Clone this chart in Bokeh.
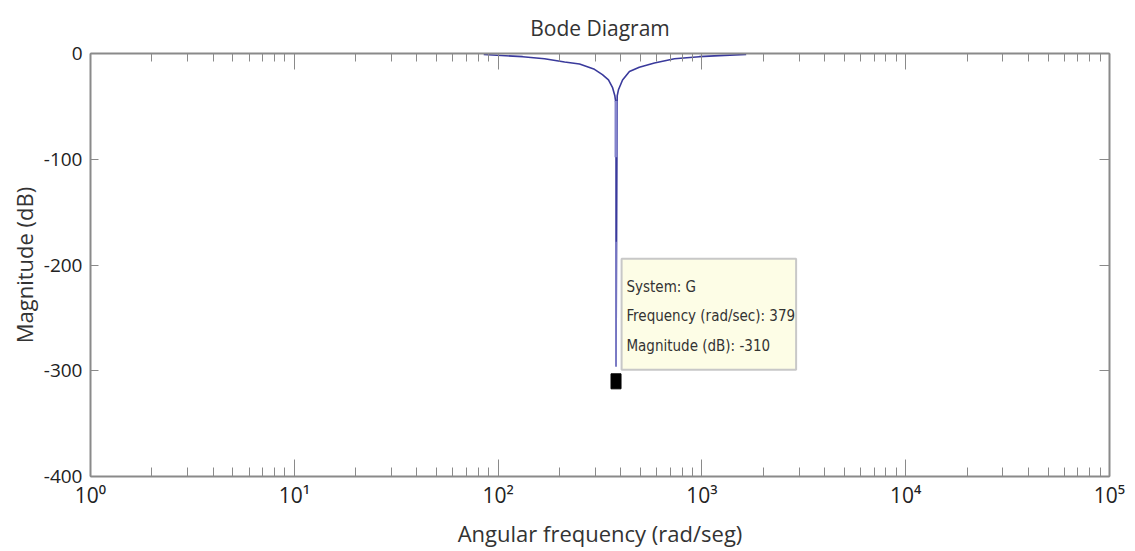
from bokeh.plotting import figure
from bokeh.models import Range1d, LinearAxis, LogAxis, LogTicker, SingleIntervalTicker, CustomJSTickFormatter, Label
from bokeh.embed import file_html
from bokeh.resources import INLINE

# ---- data ----
freq = [85, 132, 169, 212, 251, 297, 325, 348, 364, 374, 379, 379, 384, 390, 408, 441, 493, 585, 733, 971, 1217, 1649]
mag_db = [-1, -3, -5, -8, -10, -15, -20, -25, -32, -40, -48, -296, -40, -34, -25, -17, -13, -9, -5, -3, -2, -1]
# lighter-rendered pieces of the vertical notch line
light_w = [379, 379]
light_top = [-45, -178]
light_bot = [-98, -296]
light_width = [3, 1.5]
# data tip
tip_freq = 379
tip_mag = -310
tip_lines = ["System: G", "Frequency (rad/sec): 379", "Magnitude (dB): -310"]

TICK_COL = "#222222"
AX_COL = "#8a8a8a"

p = figure(width=1135, height=551, x_axis_type="log",
           x_range=Range1d(1, 1e5), y_range=Range1d(-400, 0),
           output_backend="svg", toolbar_location=None,
           min_border_left=90, min_border_right=26, min_border_top=53, min_border_bottom=75,
           background_fill_color="white", border_fill_color="white",
           outline_line_color=None)

p.title.text = "Bode Diagram"
p.title.align = "center"
p.title.text_font = "Open Sans"
p.title.text_font_size = "21px"
p.title.text_font_style = "normal"
p.title.text_color = "#333333"
p.title.standoff = 23

p.xgrid.visible = False
p.ygrid.visible = False

# bottom log axis: labels as 10 with a superscript exponent
xa = p.xaxis[0]
xa.ticker = LogTicker(desired_num_ticks=6, num_minor_ticks=10)
xa.formatter = CustomJSTickFormatter(code="""
const sup = {'0':'\u2070','1':'\u00b9','2':'\u00b2','3':'\u00b3','4':'\u2074','5':'\u2075','6':'\u2076','7':'\u2077','8':'\u2078','9':'\u2079','-':'\u207b'};
const e = Math.round(Math.log10(tick)).toString();
return '10' + e.split('').map(c => sup[c]).join('');
""")
xa.axis_label = "Angular frequency (rad/seg)"
xa.axis_label_text_font = "Open Sans"
xa.axis_label_text_font_size = "22px"
xa.axis_label_text_font_style = "normal"
xa.axis_label_text_color = "#333333"
xa.axis_label_standoff = 6
xa.major_label_text_font = "Open Sans"
xa.major_label_text_font_size = "21px"
xa.major_label_text_color = TICK_COL
xa.major_label_standoff = 4
xa.axis_line_color = AX_COL
xa.axis_line_width = 2
xa.major_tick_in = 17
xa.major_tick_out = 0
xa.minor_tick_in = 9
xa.minor_tick_out = 0
xa.major_tick_line_color = AX_COL
xa.minor_tick_line_color = AX_COL

# left linear axis
ya = p.yaxis[0]
ya.ticker = SingleIntervalTicker(interval=100, num_minor_ticks=0)
ya.formatter = CustomJSTickFormatter(code="return tick.toString()")
ya.axis_label = "Magnitude (dB)"
ya.axis_label_text_font = "Open Sans"
ya.axis_label_text_font_size = "22px"
ya.axis_label_text_font_style = "normal"
ya.axis_label_text_color = "#333333"
ya.axis_label_standoff = 2
ya.major_label_text_font = "Open Sans"
ya.major_label_text_font_size = "19px"
ya.major_label_text_color = TICK_COL
ya.major_label_standoff = 8
ya.axis_line_color = AX_COL
ya.axis_line_width = 2
ya.major_tick_in = 8
ya.major_tick_out = 0
ya.minor_tick_line_color = None
ya.major_tick_line_color = AX_COL

blank = CustomJSTickFormatter(code="return ''")

top = LogAxis(ticker=LogTicker(desired_num_ticks=6, num_minor_ticks=10), formatter=blank,
              axis_line_color=AX_COL, axis_line_width=2,
              major_tick_in=16, major_tick_out=0, minor_tick_in=8, minor_tick_out=0,
              major_tick_line_color=AX_COL, minor_tick_line_color=AX_COL,
              major_label_standoff=0, major_label_text_font_size="1px")
p.add_layout(top, "above")

right = LinearAxis(ticker=SingleIntervalTicker(interval=100, num_minor_ticks=0), formatter=blank,
                   axis_line_color=AX_COL, axis_line_width=2,
                   major_tick_in=10, major_tick_out=0, minor_tick_line_color=None,
                   major_tick_line_color=AX_COL, major_label_standoff=0,
                   major_label_text_font_size="1px")
p.add_layout(right, "right")

# magnitude curve
p.line(freq, mag_db, line_color="#3a3a9c", line_width=1.6)
p.segment(x0=light_w, y0=light_top, x1=light_w, y1=light_bot,
          line_color="#8585cc", line_width=light_width)

# data tip box
box_left = tip_freq * 1.065
box_right = tip_freq * 7.65
box_top = tip_mag + 116
box_bottom = tip_mag + 11
p.quad(left=[box_left], right=[box_right], top=[box_top], bottom=[box_bottom],
       fill_color="#fdfde6", line_color="#c8c8c8", line_width=2)

for i, t in enumerate(tip_lines):
    p.add_layout(Label(x=tip_freq * 1.125, y=box_top, y_offset=-28 - 29.5 * i,
                       text=t, text_font="Liberation Sans Narrow, DejaVu Sans Condensed, sans-serif",
                       text_font_size="15px", text_color="#333333", text_baseline="middle"))

# data tip marker
p.rect(x=[tip_freq], y=[tip_mag], width=10, height=15,
       width_units="screen", height_units="screen",
       fill_color="black", line_color="black")

open("out.html", "w").write(file_html(p, INLINE))
